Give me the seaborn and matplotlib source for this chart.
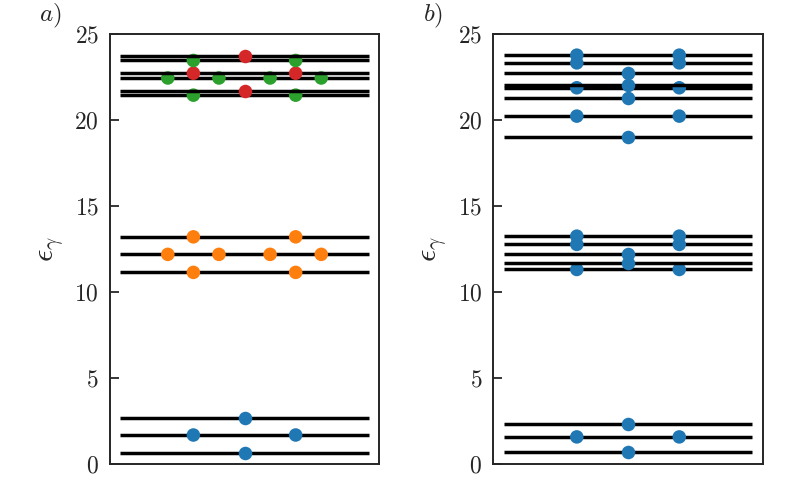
import numpy as np
import pandas as pd
import matplotlib
matplotlib.use("Agg")
import matplotlib.pyplot as plt
import seaborn as sns

# panel a: energy levels grouped by colour, with dot positions for each level
a_blue_levels = [0.63, 1.66, 2.67]
a_blue_pos = [[0], [-2, 2], [0]]
a_orange_levels = [11.13, 12.18, 13.20]
a_orange_pos = [[-2, 2], [-3, -1, 1, 3], [-2, 2]]
a_green_levels = [21.45, 22.45, 23.47]
a_green_pos = [[-2, 2], [-3, -1, 1, 3], [-2, 2]]
a_red_levels = [21.70, 22.73, 23.73]
a_red_pos = [[0], [-2, 2], [0]]

# panel b: all blue
b_levels = [0.68, 1.55, 2.33, 11.30, 11.65, 12.19, 12.76, 13.24,
            19.00, 20.23, 21.26, 21.88, 22.05, 22.75, 23.33, 23.78]
b_pos = [[0], [-2, 2], [0], [-2, 2], [0], [0], [-2, 2], [-2, 2],
         [0], [-2, 2], [0], [-2, 2], [0], [0], [-2, 2], [-2, 2]]

yticks = [0, 5, 10, 15, 20, 25]

sns.set_style("ticks")
plt.rcParams.update({
    "font.family": "serif",
    "font.serif": ["cmr10", "DejaVu Serif"],
    "mathtext.fontset": "cm",
    "axes.formatter.use_mathtext": True,
    "axes.unicode_minus": False,
    "font.size": 17,
    "axes.linewidth": 1.4,
    "ytick.direction": "in",
    "ytick.major.size": 6.5,
    "ytick.major.width": 1.3,
    "ytick.major.pad": 8,
})

pal = sns.color_palette("tab10")
colors = {"blue": pal[0], "orange": pal[1], "green": pal[2], "red": pal[3]}


def build_table(groups):
    rows = []
    for name, levels, pos in groups:
        for lev, xs in zip(levels, pos):
            for x in xs:
                rows.append({"group": name, "E": lev, "x": x})
    return pd.DataFrame(rows)


def draw_panel(ax, df):
    # draw in ascending energy: line, then its dots
    lev_order = sorted(df["E"].unique())
    for i, lev in enumerate(lev_order):
        sub = df[df["E"] == lev]
        ax.hlines(lev, -4.85, 4.85, color="black", lw=2.5, zorder=2 + 2 * i)
        sns.scatterplot(data=sub, x="x", y="E", hue="group", palette=colors,
                        s=95, linewidth=0, ax=ax, legend=False, zorder=3 + 2 * i)
    ax.set_xlim(-5.26, 5.26)
    ax.set_ylim(0, 25)
    ax.set_yticks(yticks)
    ax.set_xticks([])
    ax.set_xlabel("")
    ax.set_ylabel(r"$\epsilon_\gamma$", fontsize=22, labelpad=6)


df_a = build_table([
    ("blue", a_blue_levels, a_blue_pos),
    ("orange", a_orange_levels, a_orange_pos),
    ("green", a_green_levels, a_green_pos),
    ("red", a_red_levels, a_red_pos),
])
df_b = build_table([("blue", b_levels, b_pos)])

fig = plt.figure(figsize=(7.88, 5.03), dpi=100)
ax1 = fig.add_axes([0.1396, 0.0785, 0.3414, 0.8535])
ax2 = fig.add_axes([0.626, 0.0785, 0.342, 0.8535])

draw_panel(ax1, df_a)
draw_panel(ax2, df_b)

fig.text(0.064, 0.968, r"$a)$", fontsize=18, ha="center", va="center")
fig.text(0.550, 0.968, r"$b)$", fontsize=18, ha="center", va="center")

fig.savefig("out.png", dpi=100)
